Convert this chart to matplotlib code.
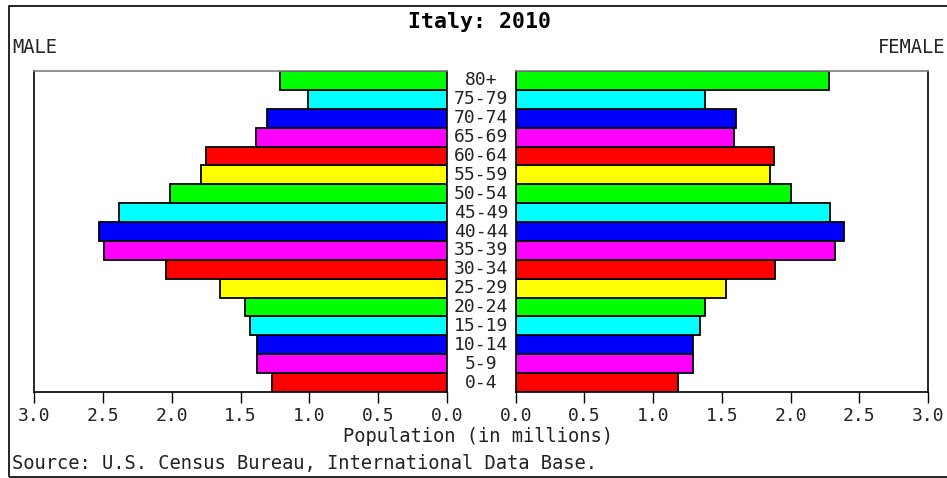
import numpy as np
import matplotlib
matplotlib.use('Agg')
import matplotlib.pyplot as plt
import matplotlib.transforms as mtransforms
from matplotlib.patches import Rectangle

# Age groups, bottom to top
ages = ['0-4', '5-9', '10-14', '15-19', '20-24', '25-29', '30-34', '35-39',
        '40-44', '45-49', '50-54', '55-59', '60-64', '65-69', '70-74',
        '75-79', '80+']
male = [1.27, 1.38, 1.38, 1.43, 1.47, 1.65, 2.04, 2.49,
        2.53, 2.38, 2.01, 1.79, 1.75, 1.39, 1.31, 1.01, 1.215]
female = [1.18, 1.29, 1.29, 1.34, 1.38, 1.53, 1.89, 2.32,
          2.39, 2.29, 2.00, 1.85, 1.88, 1.59, 1.60, 1.38, 2.28]
ticks = [0.0, 0.5, 1.0, 1.5, 2.0, 2.5, 3.0]
palette = ['#ff0000', '#ff00ff', '#0000ff', '#00ffff', '#00ff00', '#ffff00']

plt.rcParams['font.family'] = ['DejaVu Sans Mono']
W, H = 947, 478
fig = plt.figure(figsize=(W / 100, H / 100), dpi=100)

top, bottom = 71, 392
ax_l = fig.add_axes([34 / W, 1 - bottom / H, 413 / W, (bottom - top) / H])
ax_r = fig.add_axes([515.7 / W, 1 - bottom / H, 412.3 / W, (bottom - top) / H])

y = np.arange(len(ages))
colors = [palette[i % 6] for i in range(len(ages))]
txt = '#222222'

for ax, vals in ((ax_l, male), (ax_r, female)):
    ax.barh(y, vals, height=1.0, color=colors, edgecolor='black', linewidth=1.3)
    ax.set_xlim(0, 3.0)
    ax.set_ylim(-0.5, len(ages) - 0.5)
    ax.set_yticks([])
    ax.set_xticks(ticks)
    ax.set_xticklabels(['%.1f' % t for t in ticks], fontsize=13)
    ax.tick_params(axis='x', direction='out', length=8, width=1, pad=3, colors='black',
                   labelcolor=txt)
    for s in ax.spines.values():
        s.set_color('black')
        s.set_linewidth(1.2)
    ax.spines['top'].set_color('#808080')

ax_l.invert_xaxis()

# age labels between the two halves
trans = mtransforms.blended_transform_factory(fig.transFigure, ax_l.transData)
for yi, a in zip(y, ages):
    fig.text(481 / W, yi, a, transform=trans, ha='center', va='center',
             fontsize=13, color=txt)

fig.text(479 / W, 1 - 22 / H, 'Italy: 2010', ha='center', va='center',
         fontsize=15.5, fontweight='bold')
fig.text(12 / W, 1 - 47 / H, 'MALE', ha='left', va='center', fontsize=13.5, color=txt)
fig.text(945 / W, 1 - 47 / H, 'FEMALE', ha='right', va='center', fontsize=13.5, color=txt)
fig.text(478 / W, 1 - 437 / H, 'Population (in millions)', ha='center', va='center',
         fontsize=13.5, color=txt)
fig.text(12 / W, 1 - 464 / H, 'Source: U.S. Census Bureau, International Data Base.',
         ha='left', va='center', fontsize=13.5, color=txt)

# outer frame (right edge falls outside the picture)
fig.add_artist(Rectangle((9 / W, 1 / H), 1.1, (477 - 6) / H, transform=fig.transFigure,
                         fill=False, edgecolor='black', linewidth=1.2))

fig.savefig('out.png', dpi=100)
